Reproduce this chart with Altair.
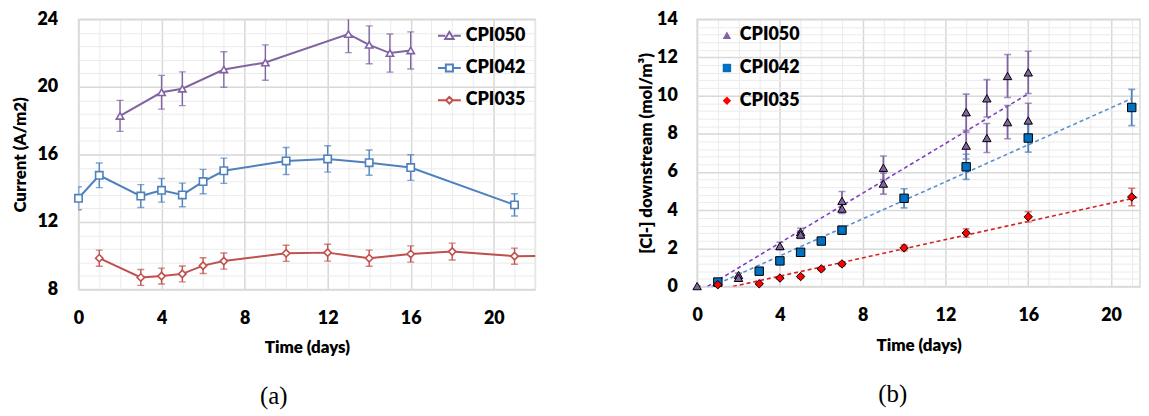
import altair as alt
import pandas as pd

FONT = "Lato"
SERIES = ["CPI050", "CPI042", "CPI035"]

# ---------------- Panel (a): current density vs time ----------------
a050_day = [2, 4, 5, 7, 9, 13, 14, 15, 16]
a050_val = [18.28, 19.68, 19.89, 21.03, 21.44, 23.13, 22.49, 22.0, 22.16]
a050_err = [0.92, 1.0, 1.0, 1.05, 1.05, 1.1, 1.12, 1.13, 1.1]

a042_day = [0, 1, 3, 4, 5, 6, 7, 10, 12, 14, 16, 21]
a042_val = [13.4, 14.76, 13.53, 13.87, 13.6, 14.39, 15.03, 15.61, 15.73, 15.51, 15.22, 13.01]
a042_err = [0.68, 0.73, 0.68, 0.7, 0.7, 0.72, 0.75, 0.8, 0.78, 0.75, 0.76, 0.66]

a035_day = [1, 3, 4, 5, 6, 7, 10, 12, 14, 16, 18, 21, 23]
a035_val = [9.85, 8.71, 8.79, 8.92, 9.41, 9.68, 10.14, 10.18, 9.85, 10.1, 10.24, 9.97, 10.0]
a035_err = [0.48, 0.47, 0.47, 0.47, 0.47, 0.48, 0.48, 0.5, 0.48, 0.48, 0.5, 0.48, 0.48]

a_xticks = [0, 4, 8, 12, 16, 20]
a_yticks = [8, 12, 16, 20, 24]
a_xminor = list(range(0, 23))
a_yminor = [round(8 + 0.8 * i, 2) for i in range(21)]

# ---------------- Panel (b): chloride downstream vs time ----------------
b050_day = [0, 2, 2, 4, 5, 5, 7, 7, 9, 9, 13, 13, 14, 14, 15, 15, 16, 16]
b050_val = [0.02, 0.6, 0.45, 2.12, 2.85, 2.72, 4.48, 4.08, 6.22, 5.39, 9.13, 7.38, 9.86, 7.78, 11.03, 8.61, 11.22, 8.7]
b050_err = [0.0, 0.1, 0.08, 0.2, 0.2, 0.2, 0.5, 0.25, 0.62, 0.55, 0.95, 0.7, 0.98, 0.76, 1.13, 0.87, 1.11, 0.9]

b042_day = [1, 3, 4, 5, 6, 7, 10, 13, 16, 21]
b042_val = [0.23, 0.8, 1.34, 1.79, 2.38, 2.95, 4.62, 6.27, 7.78, 9.38]
b042_err = [0.08, 0.08, 0.1, 0.12, 0.15, 0.2, 0.5, 0.66, 0.74, 0.95]

b035_day = [1, 3, 4, 5, 6, 7, 10, 13, 16, 21]
b035_val = [0.09, 0.14, 0.44, 0.52, 0.92, 1.18, 2.02, 2.8, 3.65, 4.69]
b035_err = [0.03, 0.05, 0.06, 0.07, 0.08, 0.1, 0.15, 0.22, 0.27, 0.46]

# linear trendlines (start / end)
trend_day0 = [0.5, 0.7, 1.73]
trend_val0 = [0.0, 0.0, 0.0]
trend_day1 = [16.0, 21.0, 21.4]
trend_val1 = [10.1, 9.85, 4.70]

b_xticks = [0, 4, 8, 12, 16, 20]
b_yticks = [0, 2, 4, 6, 8, 10, 12, 14]
b_xminor = list(range(0, 22))
b_yminor = [round(0.4 * i, 2) for i in range(36)]


def frame(days, vals, errs):
    rows = []
    for s, d, v, e in zip(SERIES, days, vals, errs):
        for di, vi, ei in zip(d, v, e):
            rows.append({"series": s, "day": di, "val": vi, "lo": vi - ei, "hi": vi + ei})
    return pd.DataFrame(rows)


dfa = frame([a050_day, a042_day, a035_day], [a050_val, a042_val, a035_val], [a050_err, a042_err, a035_err])
dfb = frame([b050_day, b042_day, b035_day], [b050_val, b042_val, b035_val], [b050_err, b042_err, b035_err])
dft = pd.DataFrame(
    [{"series": s, "day": d, "val": v} for s, d, v in zip(SERIES, trend_day0, trend_val0)]
    + [{"series": s, "day": d, "val": v} for s, d, v in zip(SERIES, trend_day1, trend_val1)]
)

WEIGHT = 800


def major_axis(values, title, orient, lpad, tpad):
    return alt.Axis(values=values, title=title, orient=orient, grid=True, gridColor="#D9D9D9",
                    gridWidth=1.5, domain=False, ticks=False, tickSize=0, labelPadding=lpad,
                    labelFont=FONT, labelFontSize=18, labelFontWeight=WEIGHT, labelColor="black",
                    labelFlush=False, labelOverlap=False, titleFont=FONT, titleFontSize=17,
                    titleFontWeight=WEIGHT, titleColor="black", titlePadding=tpad)


def minor_axis(values, orient):
    return alt.Axis(values=values, orient=orient, grid=True, gridColor="#EBEBEB", gridWidth=1,
                    domain=False, ticks=False, labels=False, title=None)


def caption(text, dx, offset):
    return alt.Title(text, orient="bottom", frame="bounds", font="Liberation Serif", fontSize=25,
                     fontWeight="normal", color="black", offset=offset, dx=dx)


# ---------------- left chart ----------------
xa = alt.Scale(domain=[0, 22], nice=False, zero=False)
ya = alt.Scale(domain=[8, 24], nice=False, zero=False)
col_a = alt.Scale(domain=SERIES, range=["#8064A2", "#4F81BD", "#C0504D"])
shape_a = alt.Scale(domain=SERIES, range=["triangle-up", "square", "diamond"])
leg_paths = alt.Scale(domain=SERIES, range=[
    "M-1,0H-0.36M0.36,0H1M0,-0.34L0.37,0.28L-0.37,0.28Z",
    "M-1,0H-0.31M0.31,0H1M-0.31,-0.31H0.31V0.31H-0.31Z",
    "M-1,0H-0.29M0.29,0H1M0,-0.29L0.29,0L0,0.29L-0.29,0Z",
])

base_a = alt.Chart(dfa)
vis_a = base_a.transform_filter("datum.day <= 22")
a_minor = vis_a.mark_point(opacity=0, clip=True).encode(
    x=alt.X("day:Q", scale=xa, axis=minor_axis(a_xminor, "bottom")),
    y=alt.Y("val:Q", scale=ya, axis=minor_axis(a_yminor, "left")),
)
a_major = vis_a.mark_point(opacity=0, clip=True).encode(
    x=alt.X("day:Q", scale=xa, axis=major_axis(a_xticks, "Time (days)", "bottom", 20, 13)),
    y=alt.Y("val:Q", scale=ya, axis=major_axis(a_yticks, "Current (A/m2)", "left", 21, 7)),
)
a_line = base_a.mark_line(strokeWidth=2, clip=True).encode(
    x=alt.X("day:Q", scale=xa, axis=None),
    y=alt.Y("val:Q", scale=ya, axis=None),
    color=alt.Color("series:N", scale=col_a, legend=None),
)
a_err = base_a.mark_rule(strokeWidth=1.4, clip=True).encode(
    x=alt.X("day:Q", scale=xa, axis=None),
    y=alt.Y("lo:Q", scale=ya, axis=None),
    y2="hi:Q",
    color=alt.Color("series:N", scale=col_a, legend=None),
)
a_cap = base_a.transform_fold(["lo", "hi"], as_=["end", "yv"]).mark_tick(
    orient="horizontal", size=7, thickness=1.4, clip=True).encode(
    x=alt.X("day:Q", scale=xa, axis=None),
    y=alt.Y("yv:Q", scale=ya, axis=None),
    color=alt.Color("series:N", scale=col_a, legend=None),
)
a_pts = vis_a.mark_point(filled=False, fill="white", strokeWidth=1.6, size=55, opacity=1).encode(
    x=alt.X("day:Q", scale=xa, axis=None),
    y=alt.Y("val:Q", scale=ya, axis=None),
    color=alt.Color("series:N", scale=col_a, legend=None),
    shape=alt.Shape("series:N", scale=shape_a, legend=None),
)
leg_a = alt.Legend(title=None, orient="none", legendX=361, legendY=4, padding=0,
                   symbolSize=529, symbolStrokeWidth=2, symbolOpacity=1, rowPadding=10.5,
                   labelOffset=4, labelFont=FONT, labelFontSize=18, labelFontWeight=WEIGHT,
                   labelColor="black")
a_leg = vis_a.mark_point(filled=False, fill="white", strokeWidth=2, opacity=0, clip=True).encode(
    x=alt.X("day:Q", scale=xa, axis=None),
    y=alt.Y("val:Q", scale=ya, axis=None),
    color=alt.Color("series:N", scale=col_a, legend=leg_a, sort=SERIES),
    shape=alt.Shape("series:N", scale=leg_paths, legend=leg_a, sort=SERIES),
)

left = alt.layer(a_minor, a_major, a_err, a_cap, a_line, a_pts, a_leg).resolve_axis(
    x="independent", y="independent").resolve_scale(color="independent", shape="independent").properties(
    width=460, height=272, title=caption("(a)", 0, 28))

# ---------------- right chart ----------------
xb = alt.Scale(domain=[0, 21.4], nice=False, zero=False)
yb = alt.Scale(domain=[0, 14], nice=False, zero=False)
trend_col = alt.Scale(domain=SERIES, range=["#7F3FBF", "#5B8FD0", "#D42020"])
err_col = alt.Scale(domain=SERIES, range=["#8064A2", "#4F81BD", "#D04848"])
fill_b = alt.Scale(domain=SERIES, range=["#8064A2", "#0070C0", "#FF0000"])
shape_b = alt.Scale(domain=SERIES, range=["triangle-up", "square", "diamond"])

base_b = alt.Chart(dfb)
b_minor = base_b.mark_point(opacity=0, clip=True).encode(
    x=alt.X("day:Q", scale=xb, axis=minor_axis(b_xminor, "bottom")),
    y=alt.Y("val:Q", scale=yb, axis=minor_axis(b_yminor, "left")),
)
b_major = base_b.mark_point(opacity=0, clip=True).encode(
    x=alt.X("day:Q", scale=xb, axis=major_axis(b_xticks, "Time (days)", "bottom", 20, 13)),
    y=alt.Y("val:Q", scale=yb, axis=major_axis(b_yticks, "[Cl-] downstream (mol/m³)", "left", 20, 1)),
)
b_trend = alt.Chart(dft).mark_line(strokeWidth=1.6, strokeDash=[4, 3], clip=True).encode(
    x=alt.X("day:Q", scale=xb, axis=None),
    y=alt.Y("val:Q", scale=yb, axis=None),
    color=alt.Color("series:N", scale=trend_col, legend=None),
)
b_err = base_b.mark_rule(strokeWidth=1.8, clip=True).encode(
    x=alt.X("day:Q", scale=xb, axis=None),
    y=alt.Y("lo:Q", scale=yb, axis=None),
    y2="hi:Q",
    color=alt.Color("series:N", scale=err_col, legend=None),
)
b_cap = base_b.transform_fold(["lo", "hi"], as_=["end", "yv"]).mark_tick(
    orient="horizontal", size=7, thickness=1.6, clip=True).encode(
    x=alt.X("day:Q", scale=xb, axis=None),
    y=alt.Y("yv:Q", scale=yb, axis=None),
    color=alt.Color("series:N", scale=err_col, legend=None),
)
leg_b = alt.Legend(title=None, orient="none", legendX=21, legendY=7, padding=0,
                   symbolSize=72, symbolStrokeColor="black", symbolStrokeWidth=1, rowPadding=15,
                   labelOffset=4, labelFont=FONT, labelFontSize=18, labelFontWeight=WEIGHT,
                   labelColor="black")
b_pts = base_b.mark_point(filled=True, stroke="black", strokeWidth=1, size=72, opacity=1).encode(
    x=alt.X("day:Q", scale=xb, axis=None),
    y=alt.Y("val:Q", scale=yb, axis=None),
    fill=alt.Fill("series:N", scale=fill_b, legend=leg_b, sort=SERIES),
    shape=alt.Shape("series:N", scale=shape_b, legend=leg_b, sort=SERIES),
)

right = alt.layer(b_minor, b_major, b_trend, b_err, b_cap, b_pts).resolve_axis(
    x="independent", y="independent").resolve_scale(color="independent").properties(
    width=446, height=269, title=caption("(b)", 4, 29))

chart = alt.hconcat(left, right, spacing=101).resolve_scale(
    color="independent", shape="independent", fill="independent").resolve_legend(
    color="independent", shape="independent", fill="independent").configure(
    padding={"left": 3, "top": 0, "right": 0, "bottom": -1}, background="white").configure_view(
    stroke="#D9D9D9", strokeWidth=1.5)

chart.save("out.html", embed_options={"renderer": "svg", "actions": False})
